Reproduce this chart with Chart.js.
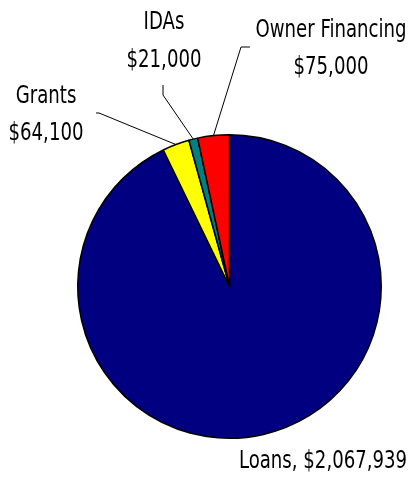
<!DOCTYPE html>
<html lang="en">
<head>
    <meta charset="UTF-8">
    <title>Funding Sources</title>
    <script src="https://cdn.jsdelivr.net/npm/chart.js"></script>
    <style>
        html, body {
            margin: 0;
            padding: 0;
            background: #ffffff;
        }
        #wrap {
            width: 412px;
            height: 483px;
        }
    </style>
</head>
<body>

<div id="wrap">
    <canvas id="pieChart" width="412" height="483"></canvas>
</div>

<script>
    // chart data
    const categories = ['Loans', 'Grants', 'IDAs', 'Owner Financing'];
    const amounts = [2067939, 64100, 21000, 75000];
    const sliceColors = ['#000080', '#ffff00', '#008080', '#ff0000'];

    // label placement (text centre x, baselines) and leader elbows
    const labelLayout = [
        { lines: ['Loans, $2,067,939'], x: 323, y: [468], leader: null },
        { lines: ['Grants', '$64,100'], x: 46, y: [103, 140], leader: [[99, 113], [96, 113]] },
        { lines: ['IDAs', '$21,000'], x: 164, y: [29, 67], leader: [[163, 95], [163, 85]] },
        { lines: ['Owner Financing', '$75,000'], x: 331, y: [37, 74], leader: [[241, 47], [250, 47]] }
    ];

    // no narrow font installed, so squeeze a condensed one sideways
    const FONT = '24px "DejaVu Sans Condensed", "Liberation Sans Narrow", sans-serif';
    const SQUEEZE = 0.84;

    const labelPlugin = {
        id: 'pieLabels',
        afterDatasetsDraw(chart) {
            const ctx = chart.ctx;
            const arcs = chart.getDatasetMeta(0).data;
            ctx.save();
            arcs.forEach((arc, i) => {
                const lay = labelLayout[i];
                if (lay.leader) {
                    const p = arc.getProps(['x', 'y', 'startAngle', 'endAngle', 'outerRadius'], true);
                    const mid = (p.startAngle + p.endAngle) / 2;
                    const sx = p.x + Math.cos(mid) * p.outerRadius;
                    const sy = p.y + Math.sin(mid) * p.outerRadius;
                    ctx.beginPath();
                    ctx.moveTo(sx, sy);
                    lay.leader.forEach(pt => ctx.lineTo(pt[0], pt[1]));
                    ctx.strokeStyle = '#000';
                    ctx.lineWidth = 1;
                    ctx.stroke();
                }
                ctx.font = FONT;
                ctx.fillStyle = '#000';
                ctx.textAlign = 'center';
                ctx.textBaseline = 'alphabetic';
                lay.lines.forEach((t, k) => {
                    ctx.save();
                    ctx.translate(lay.x, lay.y[k]);
                    ctx.scale(SQUEEZE, 1);
                    ctx.fillText(t, 0, 0);
                    ctx.restore();
                });
            });
            ctx.restore();
        }
    };

    new Chart(document.getElementById('pieChart'), {
        type: 'pie',
        data: {
            labels: categories,
            datasets: [{
                data: amounts,
                backgroundColor: sliceColors,
                borderColor: '#000000',
                borderWidth: 1.5
            }]
        },
        options: {
            responsive: false,
            animation: false,
            layout: {
                padding: { left: 77, right: 30, top: 134, bottom: 44 }
            },
            plugins: {
                legend: { display: false },
                tooltip: { enabled: false }
            }
        },
        plugins: [labelPlugin]
    });
</script>

</body>
</html>
